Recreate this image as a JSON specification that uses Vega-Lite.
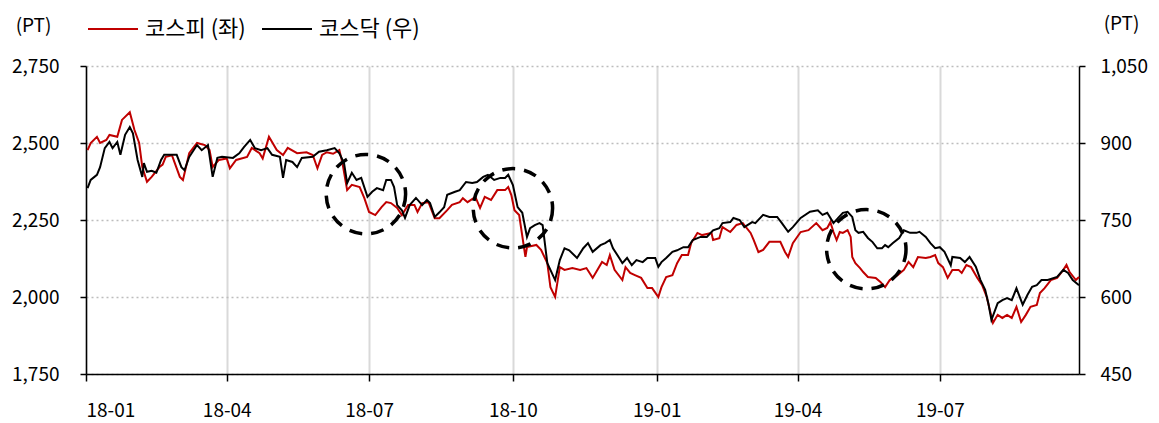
{
  "$schema": "https://vega.github.io/schema/vega-lite/v6.json",
  "width": 993,
  "height": 308,
  "autosize": {"type": "none"},
  "padding": {"left": 86, "top": 66, "right": 80, "bottom": 49},
  "background": "#ffffff",
  "config": {
    "font": "Noto Sans CJK KR",
    "view": {"stroke": null},
    "axis": {
      "labelFont": "Noto Sans CJK KR",
      "labelFontSize": 19,
      "labelColor": "#000000",
      "domainColor": "#000000",
      "domainWidth": 1.5,
      "tickColor": "#000000",
      "tickWidth": 1.5,
      "titleFont": "Noto Sans CJK KR",
      "titleFontSize": 19,
      "titleFontWeight": "normal",
      "titleColor": "#000000"
    },
    "legend": {"labelFont": "Noto Sans CJK KR", "labelFontSize": 22, "labelColor": "#000000"}
  },
  "datasets": {
    "kospi": [
      {"d":"2018-01-02","v":2477},{"d":"2018-01-04","v":2500},{"d":"2018-01-08","v":2520},{"d":"2018-01-10","v":2500},
      {"d":"2018-01-14","v":2510},{"d":"2018-01-16","v":2526},{"d":"2018-01-21","v":2520},{"d":"2018-01-24","v":2575},
      {"d":"2018-01-29","v":2600},{"d":"2018-02-01","v":2542},{"d":"2018-02-04","v":2500},{"d":"2018-02-06","v":2422},
      {"d":"2018-02-09","v":2374},{"d":"2018-02-12","v":2390},{"d":"2018-02-17","v":2422},{"d":"2018-02-19","v":2430},
      {"d":"2018-02-21","v":2455},{"d":"2018-02-25","v":2460},{"d":"2018-03-02","v":2390},{"d":"2018-03-04","v":2380},
      {"d":"2018-03-08","v":2467},{"d":"2018-03-13","v":2500},{"d":"2018-03-18","v":2493},{"d":"2018-03-21","v":2477},
      {"d":"2018-03-23","v":2422},{"d":"2018-03-27","v":2445},{"d":"2018-04-01","v":2450},{"d":"2018-04-03","v":2418},
      {"d":"2018-04-07","v":2445},{"d":"2018-04-14","v":2455},{"d":"2018-04-17","v":2484},{"d":"2018-04-22","v":2467},
      {"d":"2018-04-24","v":2450},{"d":"2018-04-28","v":2520},{"d":"2018-05-03","v":2477},{"d":"2018-05-07","v":2461},
      {"d":"2018-05-10","v":2484},{"d":"2018-05-16","v":2467},{"d":"2018-05-22","v":2470},{"d":"2018-05-26","v":2461},
      {"d":"2018-05-29","v":2418},{"d":"2018-06-01","v":2461},{"d":"2018-06-04","v":2470},{"d":"2018-06-08","v":2465},
      {"d":"2018-06-12","v":2477},{"d":"2018-06-14","v":2435},{"d":"2018-06-17","v":2347},{"d":"2018-06-20","v":2364},
      {"d":"2018-06-25","v":2357},{"d":"2018-06-28","v":2321},{"d":"2018-07-01","v":2276},{"d":"2018-07-05","v":2266},
      {"d":"2018-07-09","v":2292},{"d":"2018-07-12","v":2308},{"d":"2018-07-15","v":2305},{"d":"2018-07-19","v":2289},
      {"d":"2018-07-22","v":2266},{"d":"2018-07-26","v":2299},{"d":"2018-07-30","v":2299},{"d":"2018-08-01","v":2276},
      {"d":"2018-08-04","v":2305},{"d":"2018-08-08","v":2308},{"d":"2018-08-12","v":2256},{"d":"2018-08-15","v":2256},
      {"d":"2018-08-20","v":2282},{"d":"2018-08-23","v":2299},{"d":"2018-08-28","v":2308},{"d":"2018-08-30","v":2321},
      {"d":"2018-09-02","v":2308},{"d":"2018-09-07","v":2325},{"d":"2018-09-10","v":2289},{"d":"2018-09-13","v":2325},
      {"d":"2018-09-17","v":2315},{"d":"2018-09-21","v":2347},{"d":"2018-09-26","v":2347},{"d":"2018-09-28","v":2357},
      {"d":"2018-09-30","v":2331},{"d":"2018-10-02","v":2282},{"d":"2018-10-05","v":2266},{"d":"2018-10-09","v":2130},
      {"d":"2018-10-10","v":2162},{"d":"2018-10-16","v":2169},{"d":"2018-10-19","v":2153},{"d":"2018-10-23","v":2110},
      {"d":"2018-10-25","v":2032},{"d":"2018-10-28","v":2000},{"d":"2018-10-31","v":2097},{"d":"2018-11-03","v":2088},
      {"d":"2018-11-08","v":2094},{"d":"2018-11-13","v":2088},{"d":"2018-11-17","v":2094},{"d":"2018-11-21","v":2062},
      {"d":"2018-11-24","v":2088},{"d":"2018-11-27","v":2114},{"d":"2018-11-30","v":2104},{"d":"2018-12-02","v":2136},
      {"d":"2018-12-05","v":2088},{"d":"2018-12-10","v":2055},{"d":"2018-12-12","v":2097},{"d":"2018-12-15","v":2078},
      {"d":"2018-12-18","v":2071},{"d":"2018-12-22","v":2062},{"d":"2018-12-26","v":2029},{"d":"2018-12-29","v":2029},
      {"d":"2019-01-02","v":2000},{"d":"2019-01-04","v":2032},{"d":"2019-01-07","v":2065},{"d":"2019-01-11","v":2071},
      {"d":"2019-01-14","v":2110},{"d":"2019-01-17","v":2136},{"d":"2019-01-21","v":2136},{"d":"2019-01-23","v":2175},
      {"d":"2019-01-27","v":2208},{"d":"2019-01-30","v":2201},{"d":"2019-02-05","v":2208},{"d":"2019-02-06","v":2185},
      {"d":"2019-02-10","v":2191},{"d":"2019-02-12","v":2227},{"d":"2019-02-17","v":2211},{"d":"2019-02-21","v":2234},
      {"d":"2019-02-25","v":2240},{"d":"2019-03-02","v":2208},{"d":"2019-03-04","v":2185},{"d":"2019-03-07","v":2146},
      {"d":"2019-03-10","v":2153},{"d":"2019-03-14","v":2179},{"d":"2019-03-21","v":2179},{"d":"2019-03-24","v":2146},
      {"d":"2019-03-26","v":2130},{"d":"2019-03-29","v":2175},{"d":"2019-04-03","v":2211},{"d":"2019-04-08","v":2217},
      {"d":"2019-04-13","v":2240},{"d":"2019-04-17","v":2217},{"d":"2019-04-20","v":2224},{"d":"2019-04-22","v":2243},
      {"d":"2019-04-24","v":2211},{"d":"2019-04-26","v":2185},{"d":"2019-04-28","v":2211},{"d":"2019-04-30","v":2208},
      {"d":"2019-05-03","v":2217},{"d":"2019-05-05","v":2195},{"d":"2019-05-06","v":2130},{"d":"2019-05-08","v":2110},
      {"d":"2019-05-11","v":2094},{"d":"2019-05-13","v":2081},{"d":"2019-05-16","v":2065},{"d":"2019-05-21","v":2062},
      {"d":"2019-05-24","v":2049},{"d":"2019-05-27","v":2032},{"d":"2019-05-30","v":2055},{"d":"2019-06-04","v":2071},
      {"d":"2019-06-08","v":2088},{"d":"2019-06-11","v":2114},{"d":"2019-06-14","v":2097},{"d":"2019-06-17","v":2130},
      {"d":"2019-06-22","v":2127},{"d":"2019-06-25","v":2130},{"d":"2019-06-28","v":2136},{"d":"2019-06-30","v":2110},
      {"d":"2019-07-03","v":2097},{"d":"2019-07-06","v":2062},{"d":"2019-07-09","v":2088},{"d":"2019-07-13","v":2088},
      {"d":"2019-07-15","v":2078},{"d":"2019-07-18","v":2104},{"d":"2019-07-21","v":2097},{"d":"2019-07-25","v":2062},
      {"d":"2019-07-28","v":2039},{"d":"2019-07-31","v":2000},{"d":"2019-08-04","v":1916},{"d":"2019-08-07","v":1942},
      {"d":"2019-08-10","v":1932},{"d":"2019-08-13","v":1942},{"d":"2019-08-16","v":1932},{"d":"2019-08-19","v":1968},
      {"d":"2019-08-22","v":1919},{"d":"2019-08-25","v":1942},{"d":"2019-08-28","v":1968},{"d":"2019-09-01","v":1974},
      {"d":"2019-09-03","v":2013},{"d":"2019-09-06","v":2029},{"d":"2019-09-10","v":2055},{"d":"2019-09-14","v":2062},
      {"d":"2019-09-18","v":2088},{"d":"2019-09-20","v":2104},{"d":"2019-09-22","v":2081},{"d":"2019-09-26","v":2055},
      {"d":"2019-09-28","v":2065}
    ],
    "kosdaq": [
      {"d":"2018-01-02","v":812},{"d":"2018-01-04","v":828},{"d":"2018-01-08","v":838},{"d":"2018-01-10","v":853},
      {"d":"2018-01-13","v":890},{"d":"2018-01-16","v":902},{"d":"2018-01-18","v":890},{"d":"2018-01-21","v":902},
      {"d":"2018-01-23","v":877},{"d":"2018-01-26","v":916},{"d":"2018-01-29","v":931},{"d":"2018-01-31","v":919},
      {"d":"2018-02-03","v":867},{"d":"2018-02-06","v":834},{"d":"2018-02-07","v":861},{"d":"2018-02-09","v":844},
      {"d":"2018-02-12","v":846},{"d":"2018-02-15","v":842},{"d":"2018-02-18","v":867},{"d":"2018-02-20","v":877},
      {"d":"2018-02-28","v":877},{"d":"2018-03-03","v":853},{"d":"2018-03-05","v":847},{"d":"2018-03-08","v":873},
      {"d":"2018-03-13","v":896},{"d":"2018-03-16","v":886},{"d":"2018-03-20","v":896},{"d":"2018-03-23","v":834},
      {"d":"2018-03-26","v":871},{"d":"2018-03-29","v":873},{"d":"2018-04-05","v":871},{"d":"2018-04-09","v":880},
      {"d":"2018-04-12","v":892},{"d":"2018-04-16","v":906},{"d":"2018-04-19","v":890},{"d":"2018-04-23","v":886},
      {"d":"2018-04-27","v":890},{"d":"2018-04-30","v":877},{"d":"2018-05-05","v":873},{"d":"2018-05-07","v":832},
      {"d":"2018-05-09","v":867},{"d":"2018-05-13","v":863},{"d":"2018-05-16","v":853},{"d":"2018-05-19","v":871},
      {"d":"2018-05-26","v":873},{"d":"2018-05-30","v":883},{"d":"2018-06-04","v":886},{"d":"2018-06-09","v":890},
      {"d":"2018-06-12","v":880},{"d":"2018-06-15","v":861},{"d":"2018-06-17","v":822},{"d":"2018-06-20","v":842},
      {"d":"2018-06-23","v":828},{"d":"2018-06-26","v":832},{"d":"2018-06-30","v":795},{"d":"2018-07-03","v":805},
      {"d":"2018-07-06","v":812},{"d":"2018-07-10","v":808},{"d":"2018-07-12","v":828},{"d":"2018-07-15","v":828},
      {"d":"2018-07-17","v":814},{"d":"2018-07-19","v":779},{"d":"2018-07-22","v":769},{"d":"2018-07-24","v":754},
      {"d":"2018-07-27","v":779},{"d":"2018-07-31","v":793},{"d":"2018-08-04","v":779},{"d":"2018-08-07","v":789},
      {"d":"2018-08-09","v":783},{"d":"2018-08-12","v":756},{"d":"2018-08-15","v":765},{"d":"2018-08-18","v":775},
      {"d":"2018-08-20","v":799},{"d":"2018-08-25","v":805},{"d":"2018-08-28","v":808},{"d":"2018-09-01","v":824},
      {"d":"2018-09-05","v":822},{"d":"2018-09-08","v":824},{"d":"2018-09-12","v":834},{"d":"2018-09-15","v":838},
      {"d":"2018-09-19","v":828},{"d":"2018-09-23","v":832},{"d":"2018-09-26","v":832},{"d":"2018-09-28","v":838},
      {"d":"2018-10-01","v":818},{"d":"2018-10-04","v":775},{"d":"2018-10-07","v":764},{"d":"2018-10-10","v":717},
      {"d":"2018-10-12","v":734},{"d":"2018-10-15","v":740},{"d":"2018-10-18","v":744},{"d":"2018-10-20","v":740},
      {"d":"2018-10-23","v":666},{"d":"2018-10-28","v":633},{"d":"2018-10-31","v":672},{"d":"2018-11-03","v":695},
      {"d":"2018-11-06","v":691},{"d":"2018-11-11","v":676},{"d":"2018-11-15","v":695},{"d":"2018-11-18","v":705},
      {"d":"2018-11-21","v":688},{"d":"2018-11-26","v":701},{"d":"2018-11-29","v":705},{"d":"2018-12-02","v":711},
      {"d":"2018-12-04","v":695},{"d":"2018-12-08","v":676},{"d":"2018-12-10","v":666},{"d":"2018-12-13","v":676},
      {"d":"2018-12-16","v":662},{"d":"2018-12-19","v":672},{"d":"2018-12-23","v":668},{"d":"2018-12-26","v":676},
      {"d":"2018-12-31","v":676},{"d":"2019-01-02","v":659},{"d":"2019-01-04","v":668},{"d":"2019-01-07","v":676},
      {"d":"2019-01-11","v":688},{"d":"2019-01-14","v":691},{"d":"2019-01-18","v":697},{"d":"2019-01-21","v":697},
      {"d":"2019-01-24","v":711},{"d":"2019-01-29","v":717},{"d":"2019-02-02","v":717},{"d":"2019-02-06","v":730},
      {"d":"2019-02-10","v":734},{"d":"2019-02-12","v":744},{"d":"2019-02-17","v":746},{"d":"2019-02-19","v":754},
      {"d":"2019-02-23","v":750},{"d":"2019-02-26","v":736},{"d":"2019-03-03","v":746},{"d":"2019-03-05","v":744},
      {"d":"2019-03-10","v":760},{"d":"2019-03-14","v":756},{"d":"2019-03-19","v":756},{"d":"2019-03-22","v":744},
      {"d":"2019-03-26","v":727},{"d":"2019-03-29","v":736},{"d":"2019-04-03","v":754},{"d":"2019-04-09","v":766},
      {"d":"2019-04-14","v":769},{"d":"2019-04-17","v":760},{"d":"2019-04-20","v":764},{"d":"2019-04-24","v":744},
      {"d":"2019-04-27","v":754},{"d":"2019-04-30","v":764},{"d":"2019-05-03","v":766},{"d":"2019-05-06","v":756},
      {"d":"2019-05-08","v":730},{"d":"2019-05-10","v":725},{"d":"2019-05-13","v":727},{"d":"2019-05-16","v":715},
      {"d":"2019-05-19","v":707},{"d":"2019-05-22","v":695},{"d":"2019-05-25","v":695},{"d":"2019-05-27","v":701},
      {"d":"2019-05-29","v":697},{"d":"2019-06-01","v":705},{"d":"2019-06-05","v":715},{"d":"2019-06-08","v":730},
      {"d":"2019-06-12","v":725},{"d":"2019-06-16","v":725},{"d":"2019-06-18","v":727},{"d":"2019-06-22","v":717},
      {"d":"2019-06-25","v":705},{"d":"2019-06-28","v":695},{"d":"2019-07-01","v":697},{"d":"2019-07-04","v":688},
      {"d":"2019-07-08","v":662},{"d":"2019-07-09","v":678},{"d":"2019-07-14","v":676},{"d":"2019-07-17","v":668},
      {"d":"2019-07-20","v":678},{"d":"2019-07-24","v":659},{"d":"2019-07-27","v":633},{"d":"2019-07-30","v":614},
      {"d":"2019-08-01","v":588},{"d":"2019-08-03","v":555},{"d":"2019-08-07","v":588},{"d":"2019-08-10","v":594},
      {"d":"2019-08-13","v":598},{"d":"2019-08-16","v":594},{"d":"2019-08-19","v":617},{"d":"2019-08-23","v":585},
      {"d":"2019-08-26","v":604},{"d":"2019-08-29","v":620},{"d":"2019-09-01","v":623},{"d":"2019-09-04","v":633},
      {"d":"2019-09-08","v":633},{"d":"2019-09-14","v":639},{"d":"2019-09-18","v":653},{"d":"2019-09-21","v":647},
      {"d":"2019-09-24","v":633},{"d":"2019-09-28","v":623}
    ],
    "circles": [
      {"d":"2018-06-29","v":2334},
      {"d":"2018-10-01","v":2288},
      {"d":"2019-05-15","v":2155}
    ]
  },
  "layer": [
    {
      "data": {"name": "kospi"},
      "mark": {"type": "line", "strokeWidth": 2, "interpolate": "linear"},
      "encoding": {
        "x": {
          "field": "d", "type": "temporal",
          "scale": {"type": "utc", "domain": [{"year": 2018, "month": 1, "date": 1, "utc": true}, {"year": 2019, "month": 9, "date": 28, "utc": true}]},
          "axis": {
            "title": null,
            "values": [
              {"year": 2018, "month": 1, "date": 1, "utc": true},
              {"year": 2018, "month": 4, "date": 1, "utc": true},
              {"year": 2018, "month": 7, "date": 1, "utc": true},
              {"year": 2018, "month": 10, "date": 1, "utc": true},
              {"year": 2019, "month": 1, "date": 1, "utc": true},
              {"year": 2019, "month": 4, "date": 1, "utc": true},
              {"year": 2019, "month": 7, "date": 1, "utc": true}
            ],
            "labelExpr": "utcFormat(datum.value, '%y-%m')",
            "tickSize": 7,
            "labelPadding": 20,
            "grid": true,
            "gridColor": "#d9d9d9",
            "gridWidth": 2
          }
        },
        "y": {
          "field": "v", "type": "quantitative",
          "scale": {"domain": [1750, 2750], "nice": false, "zero": false},
          "axis": {
            "orient": "left",
            "values": [1750, 2000, 2250, 2500, 2750],
            "format": ",.0f",
            "tickSize": 6,
            "labelPadding": 21,
            "grid": true,
            "gridColor": "#bdbdbd",
            "gridDash": [2, 3],
            "gridWidth": 1.5,
            "title": "(PT)",
            "titleAngle": 0,
            "titleAlign": "center",
            "titleBaseline": "middle",
            "titleX": -53,
            "titleY": -41
          }
        },
        "color": {
          "datum": "코스피 (좌)",
          "scale": {"domain": ["코스피 (좌)", "코스닥 (우)"], "range": ["#c00000", "#000000"]},
          "legend": {
            "orient": "none",
            "legendX": 1,
            "legendY": -63,
            "direction": "horizontal",
            "title": null,
            "symbolType": "stroke",
            "symbolSize": 2500,
            "symbolStrokeWidth": 2,
            "labelOffset": 6,
            "columnPadding": 12
          }
        }
      }
    },
    {
      "data": {"name": "kosdaq"},
      "mark": {"type": "line", "strokeWidth": 2, "interpolate": "linear"},
      "encoding": {
        "x": {"field": "d", "type": "temporal"},
        "y": {
          "field": "v", "type": "quantitative",
          "scale": {"domain": [450, 1050], "nice": false, "zero": false},
          "axis": {
            "orient": "right",
            "values": [450, 600, 750, 900, 1050],
            "format": ",.0f",
            "tickSize": 6,
            "labelPadding": 15,
            "grid": false,
            "title": "(PT)",
            "titleAngle": 0,
            "titleAlign": "center",
            "titleBaseline": "middle",
            "titleX": 42,
            "titleY": -43
          }
        },
        "color": {"datum": "코스닥 (우)"}
      }
    },
    {
      "data": {"name": "circles"},
      "mark": {"type": "point", "shape": "circle", "filled": false, "stroke": "#000000", "strokeWidth": 3.5, "strokeDash": [13, 9], "opacity": 1},
      "encoding": {
        "x": {"field": "d", "type": "temporal"},
        "y": {"field": "v", "type": "quantitative", "scale": {"domain": [1750, 2750], "nice": false, "zero": false}, "axis": null},
        "size": {"value": 6300}
      }
    }
  ],
  "resolve": {"scale": {"y": "independent"}}
}
